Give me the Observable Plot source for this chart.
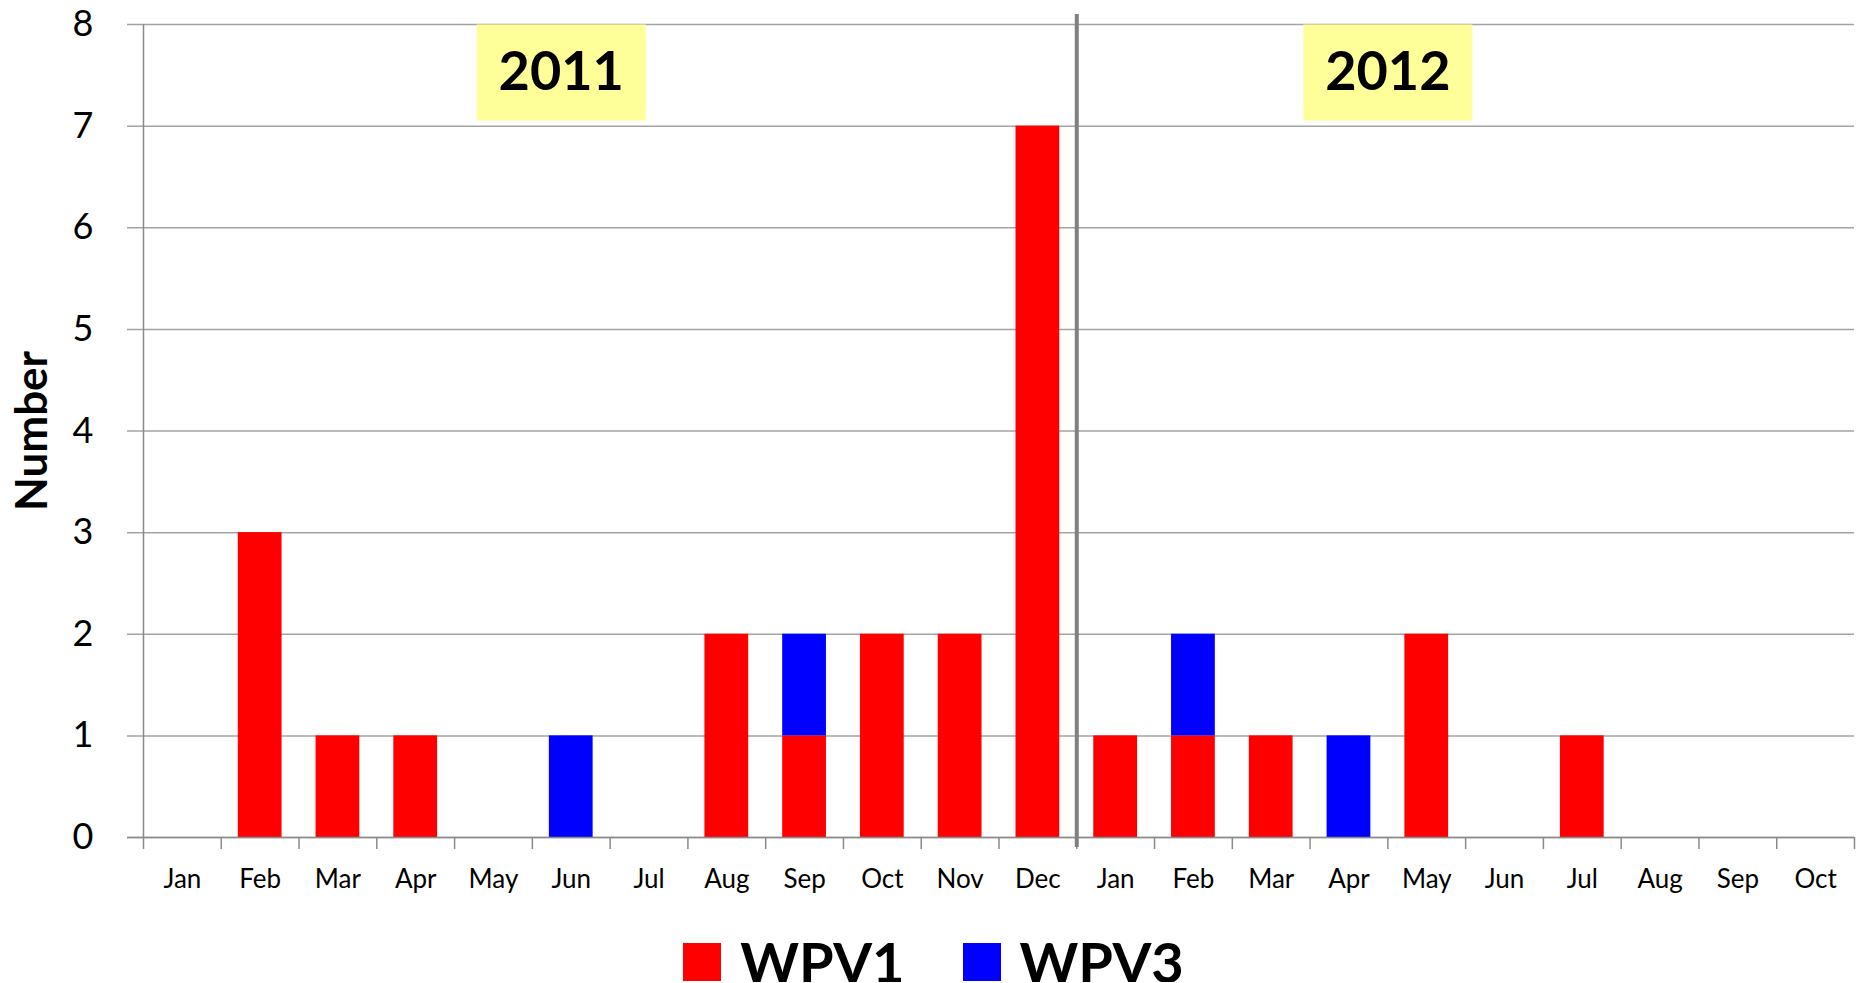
<!DOCTYPE html>
<html><head><meta charset="utf-8">
<script src="https://cdn.jsdelivr.net/npm/d3@7"></script>
<script src="https://cdn.jsdelivr.net/npm/@observablehq/plot@0.6"></script>
<style>
body{margin:0;background:#fff;font-family:Lato,sans-serif;overflow:hidden;}
#legend{display:flex;justify-content:center;align-items:center;padding-top:37px;height:40px;}
.item{display:flex;align-items:center;font-weight:bold;font-size:56px;line-height:40px;height:40px;color:#000;}
.item span{display:inline-block;height:40px;line-height:40px;overflow:visible;}
.sw{width:38px;height:38px;margin-right:19px;}
.item + .item{margin-left:58px;}
</style></head><body><div id="chart"></div><div id="legend"></div>
<script>
const months2011 = ["Jan","Feb","Mar","Apr","May","Jun","Jul","Aug","Sep","Oct","Nov","Dec"];
const months2012 = ["Jan","Feb","Mar","Apr","May","Jun","Jul","Aug","Sep","Oct"];
const wpv1 = [0,3,1,1,0,0,0,2,1,2,2,7, 1,1,1,0,2,0,1,0,0,0];
const wpv3 = [0,0,0,0,0,1,0,0,1,0,0,0, 0,1,0,1,0,0,0,0,0,0];
const types = ["WPV1","WPV3"];
const colors = ["#FF0000","#0000FF"];
const years = ["2011","2012"];
const yTicks = [0,1,2,3,4,5,6,7,8];

const periods = [...months2011.map(m => "2011-" + m), ...months2012.map(m => "2012-" + m)];
const rows = [];
periods.forEach((p, i) => {
  rows.push({period: p, type: "WPV1", value: wpv1[i]});
  rows.push({period: p, type: "WPV3", value: wpv3[i]});
});

const width = 1867, height = 905;
const marginLeft = 143, marginRight = 13, marginTop = 24, marginBottom = 68;
const step = (width - marginLeft - marginRight) / periods.length;

const chart = Plot.plot({
  width, height, marginLeft, marginRight, marginTop, marginBottom,
  style: {fontFamily: "Lato, sans-serif", background: "#fff", color: "#000"},
  x: {domain: periods, padding: 0, round: false, axis: null},
  y: {domain: [0, 8], axis: null},
  color: {domain: types, range: colors},
  marks: [
    Plot.ruleY(yTicks, {y: d => d, stroke: "#a3a3a3", strokeWidth: 1.5, insetLeft: -16}),
    Plot.barY(rows, {x: "period", y: "value", fill: "type", insetLeft: 17, insetRight: 17}),
    Plot.ruleY([0], {y: d => d, stroke: "#8a8a8a", strokeWidth: 1.5, insetLeft: -16}),
    Plot.ruleX(periods, {x: d => d, y1: 0, y2: 0, insetBottom: -12, dx: -step / 2, stroke: "#8a8a8a", strokeWidth: 1.5}),
    Plot.ruleX([periods[periods.length - 1]], {x: d => d, y1: 0, y2: 0, insetBottom: -12, dx: step / 2, stroke: "#8a8a8a", strokeWidth: 1.5}),
    Plot.ruleX([periods[0]], {x: d => d, y1: 8, y2: 0, dx: -step / 2, stroke: "#8a8a8a", strokeWidth: 1.5}),
    Plot.ruleX(["2012-Jan"], {x: d => d, y1: 8, y2: 0, insetTop: -10, insetBottom: -10, dx: -step / 2, stroke: "#808080", strokeWidth: 4}),
    Plot.text(yTicks, {frameAnchor: "left", y: d => d, text: d => String(d), textAnchor: "end", dx: -50, fontSize: 36, fill: "#000"}),
    Plot.text(periods, {x: d => d, y: 0, text: d => d.slice(5), dy: 42, fontSize: 26, fill: "#000"}),
    Plot.text(years, {x: d => d === "2011" ? "2011-Jun" : "2012-May", y: 8, text: d => d, dy: 48, fontSize: 54, fontWeight: "bold", fill: "#000"}),
    Plot.text(["Number"], {frameAnchor: "left", text: d => d, rotate: -90, textAnchor: "middle", dx: -111, fontSize: 44, fontWeight: "bold", fill: "#000"})
  ]
});
document.getElementById("chart").appendChild(chart);

// shift the year labels like the reference and add their yellow boxes
const yearOffsets = {"2011": -10, "2012": -step / 2};
d3.select(chart).selectAll("text").each(function() {
  const t = this.textContent;
  if (years.includes(t)) {
    const el = d3.select(this);
    const tr = el.attr("transform") || "";
    const m = /translate\(([-\d.]+),([-\d.]+)\)/.exec(tr);
    let x = m ? +m[1] : +el.attr("x");
    const y = m ? +m[2] : +el.attr("y");
    x += yearOffsets[t];
    if (m) el.attr("transform", `translate(${x},${y})`); else el.attr("x", x);
    const w = 169, h = 96;
    d3.select(this.parentNode).insert("rect", () => this)
      .attr("x", x - w / 2).attr("y", marginTop - 48).attr("width", w).attr("height", h)
      .attr("fill", "#FFFF99");
  }
});

const legend = document.getElementById("legend");
types.forEach((t, i) => {
  const item = document.createElement("div");
  item.className = "item";
  item.innerHTML = `<div class="sw" style="background:${colors[i]}"></div><span>${t}</span>`;
  legend.appendChild(item);
});
</script>
</body></html>
